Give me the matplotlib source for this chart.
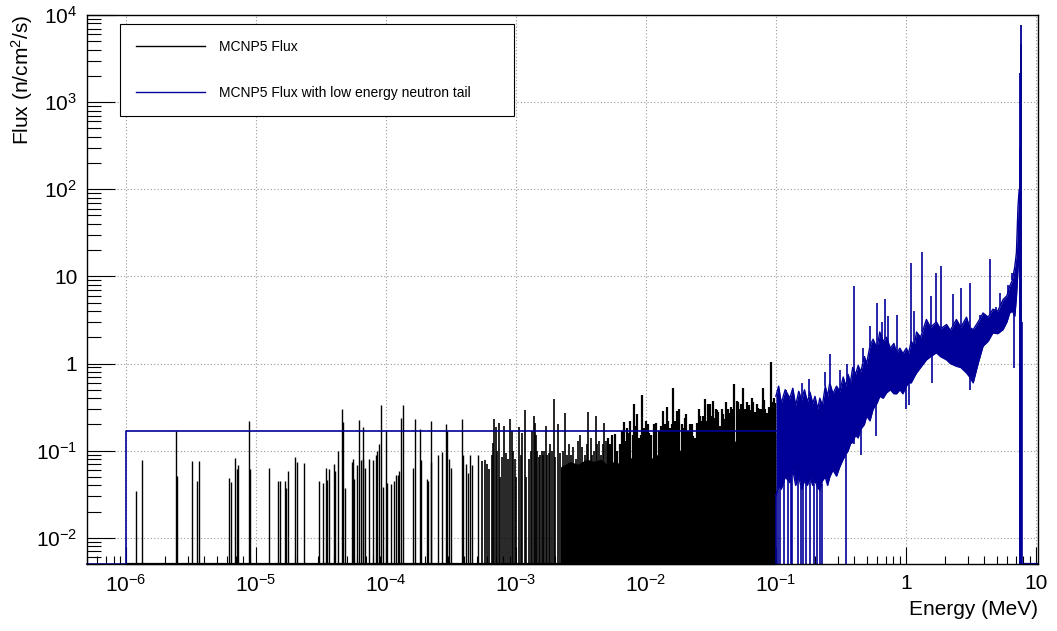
import numpy as np
import matplotlib.pyplot as plt
from matplotlib.lines import Line2D
from matplotlib.ticker import FixedLocator, LogLocator, FuncFormatter, NullFormatter

plt.rcParams['font.family'] = ['Liberation Sans', 'DejaVu Sans']
plt.rcParams['mathtext.fontset'] = 'custom'
plt.rcParams['mathtext.rm'] = 'Liberation Sans'
plt.rcParams['mathtext.it'] = 'Liberation Sans:italic'
plt.rcParams['mathtext.bf'] = 'Liberation Sans:bold'

E_MIN, E_MAX = 5e-7, 10.4
F_MIN, F_MAX = 5e-3, 1e4
BLUE = '#000099'

# MCNP5 flux: isolated bins at low energy (MeV, n/cm2/s)
low_e = [1.19e-6, 1.33e-6, 2.42e-6, 2.47e-6, 3.2e-6, 3.5e-6, 3.65e-6, 6.24e-6, 6.4e-6, 6.86e-6,
         7.1e-6, 7.3e-6, 8.83e-6, 9.0e-6, 1.26e-5, 1.48e-5, 1.53e-5, 1.66e-5, 1.7e-5, 1.77e-5,
         2.0e-5, 2.07e-5, 2.33e-5, 3.03e-5, 3.3e-5, 3.45e-5, 3.5e-5, 3.65e-5, 3.98e-5, 4.05e-5,
         4.3e-5, 4.61e-5, 4.7e-5, 4.8e-5, 5.45e-5, 5.6e-5, 5.7e-5, 6.0e-5, 6.2e-5, 6.4e-5,
         6.6e-5, 6.7e-5, 6.85e-5, 7.37e-5, 7.95e-5, 8.4e-5, 8.6e-5, 8.8e-5, 9.1e-5, 9.4e-5,
         1.0e-4, 1.02e-4, 1.1e-4, 1.15e-4, 1.2e-4, 1.24e-4, 1.27e-4, 1.3e-4, 1.34e-4, 1.62e-4,
         1.67e-4, 1.82e-4, 1.85e-4, 2.05e-4, 2.1e-4, 2.2e-4, 2.22e-4, 2.5e-4, 2.7e-4, 2.9e-4,
         2.95e-4, 3.05e-4, 3.15e-4, 3.82e-4, 3.9e-4, 4.1e-4, 4.3e-4, 4.4e-4, 4.6e-4, 5.07e-4]
low_flux = [0.034, 0.079, 0.168, 0.051, 0.076, 0.045, 0.077, 0.048, 0.044, 0.082,
            0.061, 0.068, 0.22, 0.061, 0.064, 0.045, 0.045, 0.045, 0.037, 0.059,
            0.085, 0.075, 0.073, 0.045, 0.043, 0.064, 0.046, 0.061, 0.07, 0.059,
            0.10, 0.297, 0.212, 0.037, 0.075, 0.08, 0.047, 0.068, 0.224, 0.078,
            0.185, 0.08, 0.064, 0.08, 0.079, 0.089, 0.10, 0.12, 0.33, 0.038,
            0.168, 0.042, 0.041, 0.045, 0.052, 0.052, 0.059, 0.236, 0.33, 0.064,
            0.232, 0.178, 0.078, 0.047, 0.045, 0.22, 0.075, 0.088, 0.097, 0.204,
            0.168, 0.08, 0.064, 0.232, 0.088, 0.071, 0.055, 0.088, 0.068, 0.088]

# 5e-4 .. 5e-3 MeV
mid_e = [5.45e-4, 5.8e-4, 6.25e-4, 6.7e-4, 6.8e-4, 7.0e-4, 7.4e-4, 7.6e-4, 8.1e-4, 8.7e-4,
         9.0e-4, 9.3e-4, 9.8e-4, 1.0e-3, 1.06e-3, 1.12e-3, 1.17e-3, 1.2e-3, 1.34e-3, 1.37e-3,
         1.4e-3, 1.42e-3, 1.53e-3, 1.62e-3, 1.69e-3, 1.72e-3, 1.83e-3, 1.95e-3, 2.0e-3, 2.1e-3,
         2.2e-3, 2.4e-3, 2.45e-3, 2.65e-3, 2.9e-3, 3.1e-3, 3.4e-3, 3.6e-3, 3.85e-3, 4.1e-3,
         4.2e-3, 4.5e-3, 4.8e-3, 4.95e-3,
         6.0e-4, 6.5e-4, 7.2e-4, 7.8e-4, 8.4e-4, 9.5e-4, 1.1e-3, 1.25e-3, 1.3e-3, 1.45e-3,
         1.5e-3, 1.58e-3, 1.65e-3, 1.78e-3, 1.88e-3,
         2.3e-3, 2.55e-3, 2.75e-3, 3.0e-3, 3.25e-3, 3.5e-3, 3.75e-3, 4.0e-3, 4.35e-3, 4.65e-3]
mid_flux = [0.076, 0.078, 0.061, 0.123, 0.232, 0.188, 0.21, 0.05, 0.193, 0.08,
            0.23, 0.17, 0.08, 0.05, 0.188, 0.16, 0.29, 0.05, 0.17, 0.25,
            0.21, 0.15, 0.09, 0.09, 0.19, 0.09, 0.12, 0.39, 0.085, 0.2,
            0.095, 0.27, 0.09, 0.088, 0.08, 0.15, 0.09, 0.28, 0.09, 0.25,
            0.12, 0.088, 0.21, 0.13,
            0.07, 0.09, 0.1, 0.085, 0.095, 0.1, 0.09, 0.08, 0.1, 0.1,
            0.085, 0.1, 0.1, 0.095, 0.1,
            0.1, 0.12, 0.11, 0.13, 0.11, 0.12, 0.14, 0.1, 0.13, 0.12]

# dense part, 5e-3 .. 0.1 MeV
dense_e = [5.8e-3, 6.3e-3, 6.8e-3, 7.2e-3, 7.6e-3, 8.1e-3, 8.5e-3, 9.4e-3, 1.0e-2, 1.15e-2,
           1.2e-2, 1.35e-2, 1.45e-2, 1.63e-2, 1.72e-2, 1.8e-2, 2.0e-2, 2.31e-2, 2.4e-2, 2.55e-2,
           2.83e-2, 3.0e-2, 3.1e-2, 3.3e-2, 3.7e-2, 4.1e-2, 4.4e-2, 4.8e-2, 5.0e-2, 5.1e-2,
           5.6e-2, 5.9e-2, 6.5e-2, 6.7e-2, 7.0e-2, 7.7e-2, 8.0e-2, 8.5e-2, 9.2e-2, 9.6e-2,
           5.3e-3, 6.0e-3, 7.0e-3, 7.9e-3, 8.8e-3, 1.06e-2, 1.1e-2, 1.25e-2, 1.4e-2, 1.52e-2,
           1.58e-2, 1.68e-2, 1.9e-2, 2.1e-2, 2.2e-2, 2.65e-2, 2.75e-2, 2.9e-2, 3.2e-2, 3.45e-2,
           3.6e-2, 3.85e-2, 4.0e-2, 4.25e-2, 4.6e-2, 5.25e-2, 5.45e-2, 6.2e-2, 6.9e-2, 7.3e-2,
           7.5e-2, 8.3e-2, 8.8e-2, 9.0e-2, 9.9e-2,
           5.1e-3, 5.5e-3, 6.6e-3, 7.4e-3, 8.3e-3, 9.1e-3, 9.7e-3, 1.03e-2, 1.3e-2, 1.48e-2,
           1.76e-2, 1.95e-2, 2.05e-2, 2.26e-2, 2.48e-2, 2.6e-2, 3.05e-2, 3.38e-2, 3.52e-2, 3.95e-2,
           4.5e-2, 4.7e-2, 5.35e-2, 5.75e-2, 6.05e-2, 6.35e-2, 7.15e-2, 7.9e-2, 8.15e-2, 9.4e-2]
dense_flux = [0.157, 0.12, 0.213, 0.18, 0.22, 0.34, 0.26, 0.43, 0.22, 0.2,
              0.21, 0.284, 0.32, 0.526, 0.284, 0.3, 0.24, 0.147, 0.14, 0.3,
              0.387, 0.34, 0.34, 0.37, 0.19, 0.36, 0.27, 0.575, 0.37, 0.36,
              0.52, 0.3, 0.4, 0.36, 0.25, 0.3, 0.52, 0.27, 1.05, 0.4,
              0.12, 0.1, 0.13, 0.15, 0.14, 0.16, 0.15, 0.17, 0.2, 0.18,
              0.2, 0.22, 0.2, 0.17, 0.2, 0.22, 0.25, 0.22, 0.25, 0.3,
              0.28, 0.3, 0.23, 0.3, 0.28, 0.3, 0.26, 0.33, 0.28, 0.31,
              0.3, 0.3, 0.32, 0.28, 0.35,
              0.14, 0.15, 0.17, 0.16, 0.19, 0.15, 0.18, 0.2, 0.19, 0.22,
              0.24, 0.18, 0.26, 0.2, 0.21, 0.25, 0.27, 0.24, 0.29, 0.26,
              0.32, 0.3, 0.34, 0.3, 0.36, 0.29, 0.34, 0.33, 0.38, 0.36]

# solid black body under the dense bins
floor_e = [2.2e-3, 2.6e-3, 3e-3, 3.5e-3, 4e-3, 4.5e-3, 5e-3, 5.7e-3, 6.5e-3, 7.3e-3,
           8e-3, 9e-3, 1e-2, 1.15e-2, 1.3e-2, 1.5e-2, 1.8e-2, 2.05e-2, 2.3e-2, 2.7e-2,
           3.2e-2, 3.7e-2, 4.2e-2, 4.7e-2, 5.3e-2, 6e-2, 7e-2, 8e-2, 9e-2, 0.1]
floor_flux = [0.065, 0.075, 0.07, 0.08, 0.075, 0.08, 0.07, 0.075, 0.07, 0.08,
              0.085, 0.08, 0.075, 0.085, 0.095, 0.1, 0.1, 0.11, 0.1, 0.12,
              0.12, 0.115, 0.13, 0.125, 0.14, 0.135, 0.145, 0.155, 0.15, 0.16]

black_peak_e = [7.74]
black_peak_flux = [4700]

# flux with low energy neutron tail
tail_level = 0.17
tail_start, tail_stop = 1e-6, 0.1

fast_e = [0.100, 0.105, 0.110, 0.118, 0.128, 0.135, 0.142, 0.150, 0.158, 0.166,
          0.175, 0.183, 0.192, 0.200, 0.210, 0.218, 0.228, 0.240, 0.250, 0.260,
          0.275, 0.293, 0.31, 0.33, 0.345, 0.36, 0.375, 0.39, 0.41, 0.43,
          0.45, 0.48, 0.5, 0.53, 0.56, 0.6, 0.63, 0.67, 0.71, 0.76,
          0.81, 0.85, 0.9, 0.95, 1.01, 1.05, 1.1, 1.16, 1.21, 1.3,
          1.44, 1.55, 1.72, 1.85, 2.06, 2.2, 2.45, 2.65, 2.93, 3.1,
          3.3, 3.6, 3.93, 4.3, 4.68, 5.1, 5.6, 6.0, 6.3, 6.6,
          6.9, 7.1, 7.3, 7.45]
fast_hi = [0.42, 0.55, 0.35, 0.5, 0.4, 0.52, 0.33, 0.48, 0.38, 0.5,
           0.36, 0.47, 0.35, 0.42, 0.3, 0.4, 0.33, 0.55, 0.42, 0.6,
           0.45, 0.55, 0.48, 0.7, 0.55, 0.75, 0.6, 0.9, 0.75, 0.95,
           0.8, 1.2, 1.0, 1.6, 1.9, 1.5, 2.3, 1.8, 2.0, 1.5,
           1.7, 1.3, 1.5, 1.3, 1.5, 1.3, 1.8, 1.6, 2.3, 2.0,
           3.2, 2.6, 3.0, 2.5, 2.8, 2.4, 3.2, 2.6, 3.4, 2.6,
           2.45, 3.0, 3.8, 3.4, 4.2, 4.0, 5.4, 6.0, 7.7, 9.0,
           13, 18.7, 63, 98]
fast_lo = [0.03, 0.04, 0.036, 0.05, 0.043, 0.06, 0.04, 0.05, 0.036, 0.045,
           0.04, 0.05, 0.04, 0.045, 0.038, 0.035, 0.045, 0.05, 0.04, 0.05,
           0.06, 0.051, 0.065, 0.08, 0.09, 0.1, 0.12, 0.125, 0.15, 0.14,
           0.176, 0.2, 0.25, 0.22, 0.3, 0.35, 0.42, 0.4, 0.46, 0.5,
           0.45, 0.45, 0.5, 0.45, 0.55, 0.6, 0.6, 0.7, 0.78, 0.9,
           1.1, 1.2, 1.33, 1.2, 1.1, 1.0, 0.93, 0.9, 0.78, 0.7,
           0.6, 1.0, 1.58, 1.8, 2.25, 2.2, 2.45, 3.0, 3.8, 4.0,
           3.5, 5.8, 12, 20]

spike_e = [0.105, 0.12, 0.16, 0.18, 0.24, 0.26, 0.31, 0.35, 0.40, 0.47,
           0.53, 0.6, 0.66, 0.69, 0.73, 0.85, 1.09, 1.15, 1.34, 1.55,
           1.7, 1.88, 2.3, 2.65, 3.1, 3.7, 4.42, 4.9, 5.3, 6.1, 6.6]
spike_flux = [0.55, 0.5, 0.6, 0.66, 0.79, 1.3, 0.85, 1.0, 7.8, 1.5,
              2.67, 5.0, 3.0, 5.5, 3.5, 3.6, 14.2, 4.0, 19, 6,
              11, 13, 6.2, 7.4, 8.4, 3.6, 15.8, 4.5, 6.5, 8, 11]

zero_e = [0.101, 0.104, 0.107, 0.115, 0.124, 0.13, 0.134, 0.148, 0.156, 0.162,
          0.17, 0.183, 0.195, 0.206, 0.218, 0.225, 0.345]
dip_e = [0.40, 0.45, 0.59, 1.0, 1.06, 1.58, 3.1, 6.8]
dip_flux = [0.12, 0.09, 0.147, 0.3, 0.33, 0.6, 0.5, 0.89]

peak_e = [7.55, 7.62, 7.68]
peak_flux = [300, 2150, 7600]
cutoff_e, cutoff_flux = 7.8, 3.0


def on_curve(e, curve_e, curve_f):
    # value of a band edge at energies e (log-log)
    return np.exp(np.interp(np.log(e), np.log(curve_e), np.log(curve_f)))


fig = plt.figure(figsize=(10.57, 6.31), dpi=100)
ax = fig.add_axes([0.0823, 0.1062, 0.8997, 0.870])
ax.set_xscale('log')
ax.set_yscale('log')
ax.set_xlim(E_MIN, E_MAX)
ax.set_ylim(F_MIN, F_MAX)

# black histogram
ax.vlines(low_e, F_MIN, low_flux, color='k', lw=1.0)
ax.vlines(mid_e, F_MIN, mid_flux, color='k', lw=1.2)
ax.fill_between(floor_e, F_MIN, floor_flux, color='k', lw=0)
ax.vlines(dense_e, F_MIN, dense_flux, color='k', lw=1.6)
ax.vlines(black_peak_e, F_MIN, black_peak_flux, color='k', lw=1.2)
ax.hlines(F_MIN, tail_start, tail_stop, color='k', lw=1.6, clip_on=False)

# blue histogram
ax.plot([E_MIN, tail_start, tail_start, tail_stop], [F_MIN, F_MIN, tail_level, tail_level],
        color=BLUE, lw=1.2, clip_on=False)
ax.fill_between(fast_e, fast_lo, fast_hi, color=BLUE, lw=0)
ax.plot(fast_e, fast_hi, color=BLUE, lw=1)
ax.plot(fast_e, fast_lo, color=BLUE, lw=1)
ax.vlines(spike_e, on_curve(spike_e, fast_e, fast_hi), spike_flux, color=BLUE, lw=1.2)
ax.vlines(zero_e, F_MIN, on_curve(zero_e, fast_e, fast_lo), color=BLUE, lw=1.2)
ax.vlines(dip_e, dip_flux, on_curve(dip_e, fast_e, fast_lo), color=BLUE, lw=1.2)
ax.vlines(peak_e, F_MIN, peak_flux, color=BLUE, lw=1.3)
ax.vlines(cutoff_e, F_MIN, cutoff_flux, color=BLUE, lw=1.2)
ax.hlines(F_MIN, cutoff_e, E_MAX, color=BLUE, lw=1.6, clip_on=False)

# axes, ROOT look
ax.xaxis.set_major_locator(FixedLocator([1e-6, 1e-5, 1e-4, 1e-3, 1e-2, 1e-1, 1, 10]))
ax.yaxis.set_major_locator(FixedLocator([1e-2, 1e-1, 1, 10, 1e2, 1e3, 1e4]))
ax.xaxis.set_minor_locator(LogLocator(base=10, subs=np.arange(2, 10), numticks=100))
ax.yaxis.set_minor_locator(LogLocator(base=10, subs=np.arange(2, 10), numticks=100))
ax.xaxis.set_minor_formatter(NullFormatter())
ax.yaxis.set_minor_formatter(NullFormatter())


def root_fmt(v, pos):
    if np.isclose(v, 1):
        return '1'
    if np.isclose(v, 10):
        return '10'
    return r'$10^{%d}$' % round(np.log10(v))


ax.xaxis.set_major_formatter(FuncFormatter(root_fmt))
ax.yaxis.set_major_formatter(FuncFormatter(root_fmt))
ax.tick_params(axis='x', which='major', direction='in', length=12, width=0.8, labelsize=15, pad=7)
ax.tick_params(axis='x', which='minor', direction='in', length=6, width=0.8)
ax.tick_params(axis='y', which='major', direction='in', length=20, width=0.8, labelsize=15, pad=7)
ax.tick_params(axis='y', which='minor', direction='in', length=10, width=0.8)
ax.grid(True, which='major', color='#999999', lw=0.8, linestyle=(0, (1, 2)))
ax.set_axisbelow(True)
for s in ax.spines.values():
    s.set_linewidth(1.0)

ax.set_xlabel('Energy (MeV)', fontsize=15, loc='right')
ax.set_ylabel('Flux (n/cm$^2$/s)', fontsize=15, loc='top')
ax.xaxis.set_label_coords(1.0, -0.065)
ax.yaxis.set_label_coords(-0.055, 1.0)

handles = [Line2D([], [], color='k', lw=1), Line2D([], [], color=BLUE, lw=1)]
leg = ax.legend(handles, ['MCNP5 Flux', 'MCNP5 Flux with low energy neutron tail'],
                loc='upper left', bbox_to_anchor=(0.0347, 0.816, 0.414, 0.1676), mode='expand',
                fontsize=10, handlelength=5.0, handletextpad=1.0, labelspacing=2.3,
                borderpad=1.15, borderaxespad=0, fancybox=False, framealpha=1)
leg.get_frame().set_edgecolor('k')
leg.get_frame().set_linewidth(0.8)

fig.savefig('out.png', dpi=100)
